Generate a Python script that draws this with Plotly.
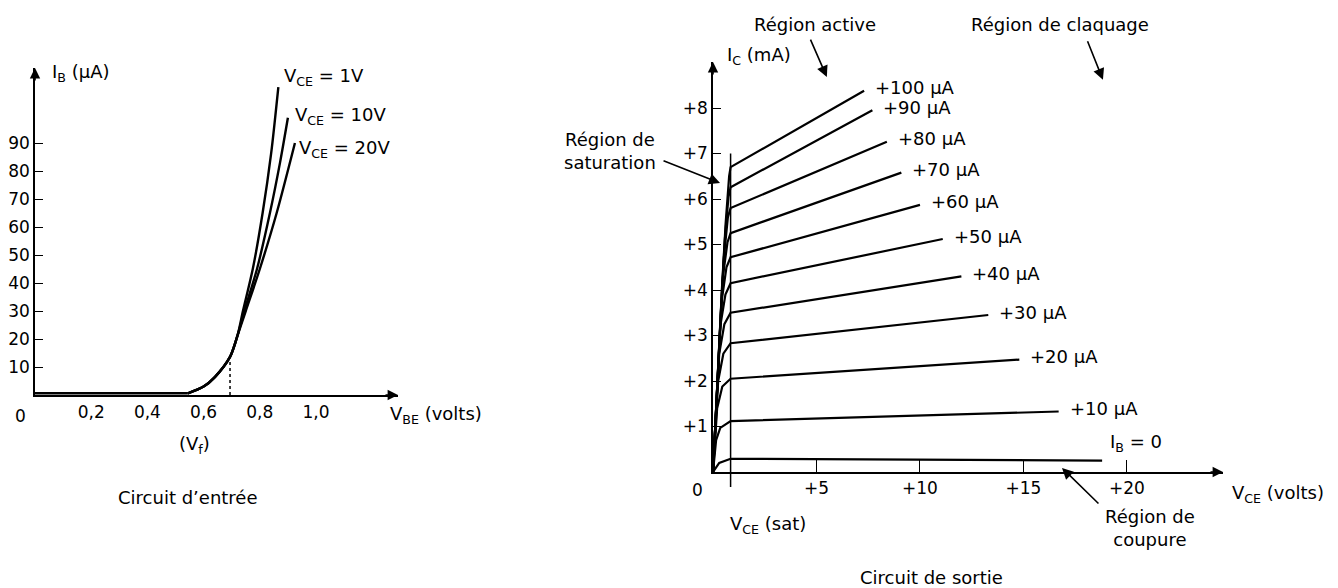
import plotly.graph_objects as go

# --- Circuit d'entrée : I_B (µA) en fonction de V_BE (volts) ---
vbe_flat = [0.0, 0.544]
ib_flat = [0.6, 0.6]
vbe_1v = [0.544, 0.6, 0.64, 0.694, 0.72, 0.74, 0.775, 0.81, 0.84, 0.866]
ib_1v = [0.6, 3.0, 6.4, 13.6, 21.0, 30.0, 45.0, 65.0, 86.0, 110.0]
vbe_10v = [0.544, 0.6, 0.64, 0.694, 0.72, 0.745, 0.79, 0.836, 0.872, 0.90]
ib_10v = [0.6, 3.0, 6.4, 13.6, 21.0, 30.0, 45.0, 65.0, 83.0, 99.0]
vbe_20v = [0.544, 0.6, 0.64, 0.694, 0.72, 0.75, 0.80, 0.86, 0.925]
ib_20v = [0.6, 3.0, 6.4, 13.6, 21.0, 30.0, 45.0, 65.0, 90.0]
in_labels = ["V<sub>CE</sub> = 1V", "V<sub>CE</sub> = 10V", "V<sub>CE</sub> = 20V"]
vf_x = [0.694, 0.694]
vf_y = [0.0, 12.0]
in_xticks = [0.2, 0.4, 0.6, 0.8, 1.0]
in_xtext = ["0,2", "0,4", "0,6", "0,8", "1,0"]
in_yticks = [10, 20, 30, 40, 50, 60, 70, 80, 90]

# --- Circuit de sortie : I_C (mA) en fonction de V_CE (volts) ---
out_labels = ["I<sub>B</sub> = 0", "+10 µA", "+20 µA", "+30 µA", "+40 µA", "+50 µA",
              "+60 µA", "+70 µA", "+80 µA", "+90 µA", "+100 µA"]
out_vce = [
    [0, 0.3, 0.85, 18.8],
    [0, 0.15, 0.35, 0.85, 16.7],
    [0, 0.2, 0.45, 0.85, 14.8],
    [0, 0.25, 0.5, 0.85, 13.3],
    [0, 0.3, 0.55, 0.85, 12.0],
    [0, 0.35, 0.6, 0.85, 11.1],
    [0, 0.4, 0.65, 0.85, 10.0],
    [0, 0.45, 0.7, 0.85, 9.1],
    [0, 0.5, 0.72, 0.85, 8.4],
    [0, 0.55, 0.75, 0.85, 7.7],
    [0, 0.6, 0.78, 0.85, 7.3],
]
out_ic = [
    [0, 0.2, 0.29, 0.25],
    [0, 0.7, 0.97, 1.12, 1.33],
    [0, 1.4, 1.88, 2.05, 2.47],
    [0, 2.0, 2.6, 2.83, 3.45],
    [0, 2.6, 3.25, 3.5, 4.3],
    [0, 3.2, 3.9, 4.15, 5.12],
    [0, 3.7, 4.5, 4.72, 5.87],
    [0, 4.2, 5.05, 5.25, 6.58],
    [0, 4.6, 5.6, 5.8, 7.26],
    [0, 5.0, 6.05, 6.26, 7.95],
    [0, 5.4, 6.5, 6.7, 8.38],
]
vce_sat = 0.85
vce_sat_top = 7.0
out_xticks = [5, 10, 15, 20]
out_xtext = ["+5", "+10", "+15", "+20"]
out_yticks = [1, 2, 3, 4, 5, 6, 7, 8]
out_ytext = ["+1", "+2", "+3", "+4", "+5", "+6", "+7", "+8"]

W, H = 1338, 588
FONT = "DejaVu Sans"


def px(x):
    return x / W


def py(y):
    return 1 - y / H


fig = go.Figure()
line = dict(color="black", width=2.4)

# entrée
fig.add_trace(go.Scatter(x=vbe_flat, y=ib_flat, mode="lines", line=line, xaxis="x", yaxis="y"))
for vx, iy in [(vbe_1v, ib_1v), (vbe_10v, ib_10v), (vbe_20v, ib_20v)]:
    fig.add_trace(go.Scatter(x=vx, y=iy, mode="lines", line=dict(line, shape="spline", smoothing=0.8),
                             xaxis="x", yaxis="y"))
fig.add_trace(go.Scatter(x=vf_x, y=vf_y, mode="lines", line=dict(color="black", width=1.5, dash="dot"),
                         xaxis="x", yaxis="y"))

# sortie
for vx, iy in zip(out_vce, out_ic):
    fig.add_trace(go.Scatter(x=vx, y=iy, mode="lines", line=dict(color="black", width=2.2),
                             xaxis="x2", yaxis="y2"))

ann = []
txt = dict(family=FONT, size=18, color="black")

# étiquettes des courbes d'entrée
for (vx, iy), lab, (dx, dy) in zip([(vbe_1v, ib_1v), (vbe_10v, ib_10v), (vbe_20v, ib_20v)],
                                   in_labels, [(4, 10), (5, 2), (2, -6)]):
    ann.append(dict(x=vx[-1], y=iy[-1], xref="x", yref="y", text=lab, showarrow=False,
                    xanchor="left", yanchor="middle", xshift=dx, yshift=dy, font=txt))

# étiquettes des courbes de sortie
for vx, iy, lab in zip(out_vce, out_ic, out_labels):
    if lab.startswith("I"):
        ann.append(dict(x=vx[-1], y=iy[-1], xref="x2", yref="y2", text=lab, showarrow=False,
                        xanchor="left", yanchor="bottom", xshift=6, yshift=4, font=txt))
    else:
        ann.append(dict(x=vx[-1], y=iy[-1], xref="x2", yref="y2", text=lab, showarrow=False,
                        xanchor="left", yanchor="middle", xshift=9, yshift=3, font=txt))

# flèches des axes
arrow = dict(showarrow=True, text="", arrowhead=2, arrowsize=1.3, arrowwidth=1.6, arrowcolor="black",
             standoff=0)
ann += [
    dict(arrow, x=1.2918, y=0, xref="x", yref="y", ax=-14, ay=0),
    dict(arrow, x=0, y=116.79, xref="x", yref="y", ax=0, ay=14),
    dict(arrow, x=24.64, y=0, xref="x2", yref="y2", ax=-14, ay=0),
    dict(arrow, x=0, y=9.011, xref="x2", yref="y2", ax=0, ay=14),
]


# textes fixes
def label(x, y, text, xanchor="center", size=18):
    return dict(x=px(x), y=py(y), xref="paper", yref="paper", text=text, showarrow=False,
                xanchor=xanchor, yanchor="middle", font=dict(family=FONT, size=size, color="black"))


ann += [
    label(50, 73, "I<sub>B</sub> (µA)", "left"),
    label(388, 415, "V<sub>BE</sub> (volts)", "left"),
    label(194, 445, "(V<sub>f</sub>)"),
    label(188, 497, "Circuit d’entrée"),
    label(725, 56, "I<sub>C</sub> (mA)", "left"),
    label(1230, 494, "V<sub>CE</sub> (volts)", "left"),
    label(768, 525, "V<sub>CE</sub> (sat)"),
    label(1150, 528, "Région de<br>coupure"),
    label(610, 151, "Région de<br>saturation"),
    label(815, 25, "Région active"),
    label(1060, 25, "Région de claquage"),
    label(931, 577, "Circuit de sortie"),
    dict(x=0, y=0, xref="x", yref="y", text="0", showarrow=False, xanchor="right", yanchor="top",
         xshift=-7, yshift=-9, font=dict(family=FONT, size=17, color="black")),
    dict(x=0, y=0, xref="x2", yref="y2", text="0", showarrow=False, xanchor="right", yanchor="top",
         xshift=-8, yshift=-6, font=dict(family=FONT, size=17, color="black")),
]

# flèches des régions
ann += [
    dict(arrow, x=16.86, y=0.09, xref="x2", yref="y2", ax=38, ay=37, arrowsize=1.4),
    dict(arrow, x=0.34, y=6.35, xref="x2", yref="y2", ax=-58, ay=-23, arrowsize=1.4),
    dict(arrow, x=5.5, y=8.68, xref="x2", yref="y2", ax=-17, ay=-39, arrowsize=1.4),
    dict(arrow, x=18.84, y=8.62, xref="x2", yref="y2", ax=-16, ay=-40, arrowsize=1.4),
]

# V_CE(sat)
fig.add_shape(type="line", xref="x2", yref="paper", x0=vce_sat, x1=vce_sat,
              y0=py(487), y1=py(472 - vce_sat_top * 45.5), line=dict(color="black", width=1.5))

axis_common = dict(showgrid=False, zeroline=False, showline=True, linecolor="black", linewidth=1.6,
                   ticks="inside", tickcolor="black", tickwidth=1.3,
                   tickfont=dict(family=FONT, size=17, color="black"))

fig.update_layout(
    width=W, height=H,
    margin=dict(l=0, r=0, t=0, b=0),
    paper_bgcolor="white", plot_bgcolor="white",
    showlegend=False,
    annotations=ann,
    xaxis=dict(axis_common, domain=[px(35), px(398)], range=[0, 1.2918], anchor="y",
               tickvals=in_xticks, ticktext=in_xtext, ticks="", ticklabelstandoff=1),
    yaxis=dict(axis_common, domain=[py(395), py(68)], range=[0, 116.79], anchor="x",
               tickvals=in_yticks, ticklen=8),
    xaxis2=dict(axis_common, domain=[px(713), px(1223)], range=[0, 24.64], anchor="y2",
                tickvals=out_xticks, ticktext=out_xtext, ticklen=12),
    yaxis2=dict(axis_common, domain=[py(472), py(62)], range=[0, 9.011], anchor="x2",
                tickvals=out_yticks, ticktext=out_ytext, ticklen=8),
)

fig.write_html("out.html", config={"displayModeBar": False},
               post_script="document.body.style.margin='0';")
